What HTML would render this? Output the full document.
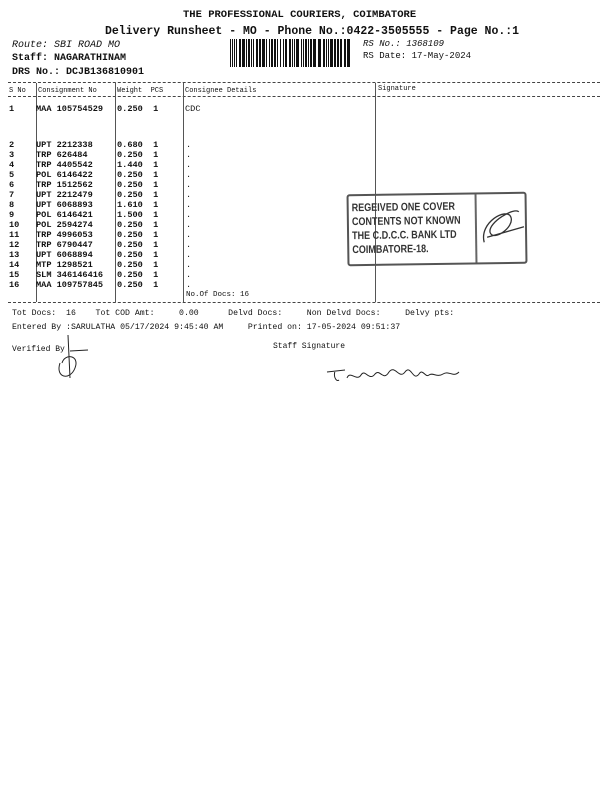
<!DOCTYPE html>
<html><head><meta charset="utf-8"><style>
body{margin:0;width:600px;height:800px;background:#fff;position:relative;overflow:hidden;font-family:"Liberation Mono",monospace;color:#111}
.t{position:absolute;white-space:pre;font-weight:bold;font-size:8.6px;line-height:10px}
.d{position:absolute;height:0;border-top:1px dashed #444}
.v{position:absolute;width:0;border-left:1px solid #555}
</style></head><body>
<div class="t" style="left:183px;top:9px;font-size:10.5px;line-height:12px">THE PROFESSIONAL COURIERS, COIMBATORE</div>
<div class="t" style="left:105px;top:25px;font-size:11.5px;line-height:14px">Delivery Runsheet - MO - Phone No.:0422-3505555 - Page No.:1</div>
<div class="t" style="left:12px;top:41px;font-size:10px;font-weight:normal;font-style:italic">Route: SBI ROAD MO</div>
<div class="t" style="left:12px;top:54px;font-size:10px">Staff: NAGARATHINAM</div>
<div class="t" style="left:12px;top:68px;font-size:10px">DRS No.: DCJB136810901</div>
<div class="t" style="left:363px;top:39px;font-size:9px;font-weight:normal;font-style:italic">RS No.: 1368109</div>
<div class="t" style="left:363px;top:51px;font-size:9px;font-weight:normal">RS Date: 17-May-2024</div>
<svg id="bc" style="position:absolute;left:230px;top:39px" width="122" height="28"></svg>
<div class="d" style="left:8px;top:82px;width:592px"></div>
<div class="d" style="left:8px;top:96px;width:592px"></div>
<div class="d" style="left:8px;top:302px;width:592px"></div>
<div class="v" style="left:36px;top:83px;height:219px"></div>
<div class="v" style="left:115px;top:83px;height:219px"></div>
<div class="v" style="left:183px;top:83px;height:219px"></div>
<div class="v" style="left:375px;top:83px;height:219px"></div>
<div class="t" style="left:9px;top:86px;font-size:7px;font-weight:normal">S No</div>
<div class="t" style="left:38px;top:86px;font-size:7px;font-weight:normal">Consignment No</div>
<div class="t" style="left:117px;top:86px;font-size:7px;font-weight:normal">Weight  PCS</div>
<div class="t" style="left:185px;top:86px;font-size:7px;font-weight:normal">Consignee Details</div>
<div class="t" style="left:378px;top:84px;font-size:7px;font-weight:normal">Signature</div>
<div class="t" style="left:9px;top:104px">1</div>
<div class="t" style="left:36px;top:104px">MAA 105754529</div>
<div class="t" style="left:117px;top:104px">0.250  1</div>
<div class="t" style="left:185px;top:104px;font-weight:normal">CDC</div>
<div class="t" style="left:9px;top:140px">2
3
4
5
6
7
8
9
10
11
12
13
14
15
16</div>
<div class="t" style="left:36px;top:140px">UPT 2212338
TRP 626484
TRP 4405542
POL 6146422
TRP 1512562
UPT 2212479
UPT 6068893
POL 6146421
POL 2594274
TRP 4996053
TRP 6790447
UPT 6068894
MTP 1298521
SLM 346146416
MAA 109757845</div>
<div class="t" style="left:117px;top:140px">0.680  1
0.250  1
1.440  1
0.250  1
0.250  1
0.250  1
1.610  1
1.500  1
0.250  1
0.250  1
0.250  1
0.250  1
0.250  1
0.250  1
0.250  1</div>
<div class="t" style="left:186px;top:140px;font-weight:normal">.
.
.
.
.
.
.
.
.
.
.
.
.
.
.</div>
<div class="t" style="left:186px;top:290px;font-size:7.5px;font-weight:normal">No.Of Docs: 16</div>
<div style="position:absolute;left:347px;top:193px;width:176px;height:68px;border:2px solid #555;border-radius:3px;transform:rotate(-0.8deg)">
<div style="position:absolute;left:126px;top:0;height:68px;border-left:2px solid #666"></div>
<div style="position:absolute;left:3px;top:5px;font-size:11px;line-height:14px;font-weight:bold;color:#333;white-space:nowrap;transform:scaleX(0.82);transform-origin:0 0;font-family:'Liberation Sans',sans-serif">REGEIVED ONE COVER<br>CONTENTS NOT KNOWN<br>THE C.D.C.C. BANK LTD<br>COIMBATORE-18.</div>
<svg style="position:absolute;left:130px;top:8px" width="46" height="50"><path d="M5 40 C0 20,28 5,32 15 C36 25,14 40,11 30 C9 20,36 5,40 10 M8 35 L45 25" stroke="#333" fill="none" stroke-width="1.3"/></svg>
</div>
<div class="t" style="left:12px;top:309px;font-size:8.2px;font-weight:normal">Tot Docs:  16    Tot COD Amt:     0.00      Delvd Docs:     Non Delvd Docs:     Delvy pts:</div>
<div class="t" style="left:12px;top:323px;font-size:8.2px;font-weight:normal">Entered By :SARULATHA 05/17/2024 9:45:40 AM     Printed on: 17-05-2024 09:51:37</div>
<div class="t" style="left:12px;top:345px;font-size:8px;font-weight:normal">Verified By</div>
<div class="t" style="left:273px;top:342px;font-size:8px;font-weight:normal">Staff Signature</div>
<svg style="position:absolute;left:50px;top:333px" width="40" height="50"><path d="M18 2 L20 45 M10 30 C5 45,20 48,25 35 C30 22,15 20,12 30 M20 18 L38 17" stroke="#222" fill="none" stroke-width="1"/></svg>
<svg style="position:absolute;left:325px;top:360px" width="160" height="30"><path d="M2 12 L20 10 M10 11 C8 18,12 22,14 20 M22 18 C25 10,32 22,36 15 C40 8,44 22,50 14 C55 8,58 22,64 12 C70 4,74 20,80 12 C86 4,88 22,94 14 C98 8,100 18,104 15 C108 12,112 18,118 14 C124 10,128 18,134 12" stroke="#222" fill="none" stroke-width="1"/></svg>
<script>
var s=document.getElementById('bc'),x=0,h='',seed=7;
function r(){seed=(seed*9301+49297)%233280;return seed/233280;}
while(x<120){var w=r()<0.5?1:(r()<0.6?2:3);h+='<rect x="'+x+'" y="0" width="'+w+'" height="28" fill="#111"/>';x+=w+(r()<0.6?1:2);}
s.innerHTML=h;
</script>
</body></html>
